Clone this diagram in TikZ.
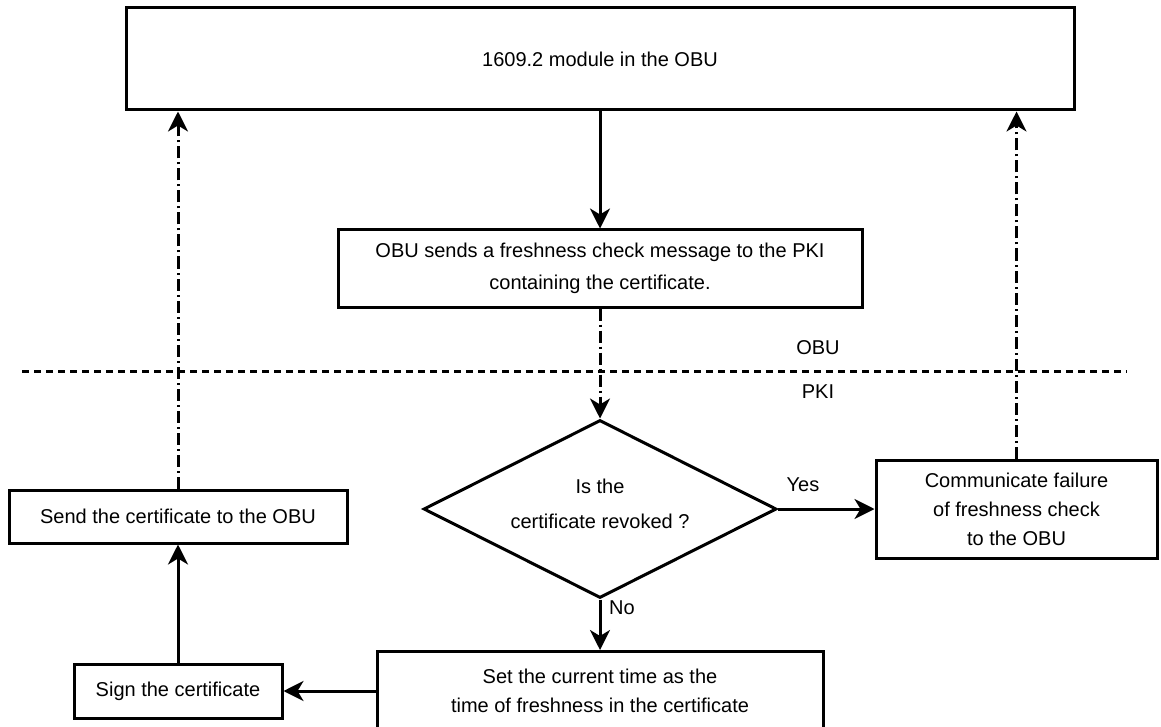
\documentclass[tikz,border=0pt]{standalone}
\usepackage{fontspec}
\setmainfont{Liberation Sans}
\usetikzlibrary{shapes.geometric,arrows.meta}
\begin{document}
\begin{tikzpicture}[x=0.5pt,y=-0.5pt,
  every node/.style={font=\fontsize{10}{14.5}\selectfont},
  box/.style={draw, line width=1.5pt, rectangle, inner sep=0pt, align=center},
  decision/.style={draw, line width=1.5pt, diamond, aspect=2, inner sep=0pt, align=center},
  flow/.style={line width=1.5pt, -{Stealth[length=10pt,width=10pt,inset=3pt]}},
  flowdd/.style={flow, dash pattern=on 6pt off 2pt on 1pt off 2pt},
  lane/.style={line width=1.5pt, dash pattern=on 3.5pt off 2.5pt},
  lbl/.style={inner sep=0pt}
]
\useasboundingbox (0,0) rectangle (1161,727);
\fill[white] (0,0) rectangle (1161,727);
\clip (0,0) rectangle (1161,727);

% process steps
\node[box, minimum width=474pt, minimum height=51pt] (top) at (600,59) {1609.2 module in the OBU};
\node[box, minimum width=262pt, minimum height=38.5pt] (sendmsg) at (600,268.5)
  {OBU sends a freshness check message to the PKI\\[1.5pt]containing the certificate.};
\node[decision, minimum width=176.5pt, minimum height=89pt, text depth=5.5pt] (check) at (600,509)
  {Is the\\[3pt]certificate revoked ?};
\node[box, minimum width=140.5pt, minimum height=49pt] (comm) at (1016.5,509)
  {Communicate failure\\of freshness check\\to the OBU};
\node[box, minimum width=223pt, minimum height=39.5pt] (set) at (600,691)
  {Set the current time as the\\time of freshness in the certificate};
\node[box, minimum width=104pt, minimum height=27pt] (sign) at (178,691) {Sign the certificate};
\node[box, minimum width=169pt, minimum height=26.5pt] (send) at (178,516.5) {Send the certificate to the OBU};

% swim-lane separator
\coordinate (laneL) at (22,371);
\coordinate (laneR) at (1127,371);
\draw[lane] (laneL) -- (laneR);
\node[lbl] (obu) at (818,348) {OBU};
\node[lbl] (pki) at (818,392) {PKI};

% connectors
\draw[flow] (top.south) -- (sendmsg.north);
\draw[flowdd] (sendmsg.south) -- (check.north);
\draw[flow] (check.east) -- (comm.west);
\draw[flow] (check.south) -- (set.north);
\draw[flow] (set.west) -- (sign.east);
\draw[flow] (sign.north) -- (send.south);
\draw[flowdd] (send.north) -- (send.north |- top.south);
\draw[flowdd] (comm.north) -- (comm.north |- top.south);

\node[lbl] (yes) at (803,485) {Yes};
\node[lbl] (no) at (622,608) {No};
\end{tikzpicture}
\end{document}
